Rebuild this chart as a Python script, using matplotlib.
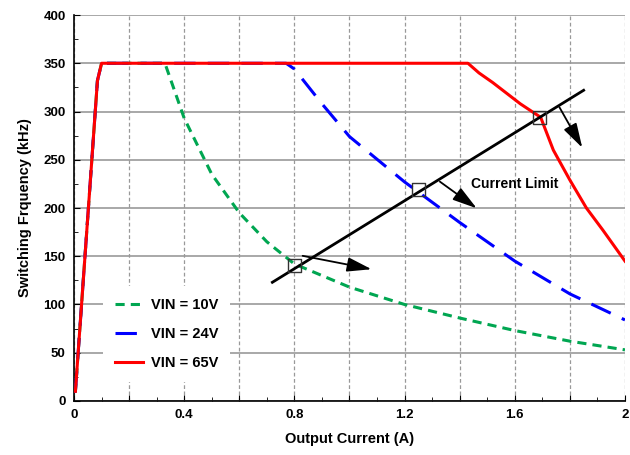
import numpy as np
import matplotlib.pyplot as plt
from matplotlib.ticker import MultipleLocator, FixedLocator

# data
i_10 = [0.0, 0.005, 0.085, 0.10, 0.33, 0.40, 0.50, 0.60, 0.70, 0.80, 1.0, 1.2, 1.4, 1.6, 1.8, 2.0]
f_10 = [10, 10, 332, 350, 350, 293, 235, 195, 165, 142, 118, 100, 86, 73, 62, 53]

i_24 = [0.0, 0.005, 0.085, 0.10, 0.77, 0.80, 0.90, 1.0, 1.2, 1.4, 1.6, 1.8, 2.0]
f_24 = [10, 10, 332, 350, 350, 344, 308, 274, 227, 185, 145, 111, 84]

i_65 = [0.005, 0.085, 0.10, 1.43, 1.47, 1.52, 1.62, 1.694, 1.74, 1.80, 1.86, 1.92, 2.0]
f_65 = [10, 332, 350, 350, 340, 330, 308, 294, 260, 229, 200, 177, 145]

limit_i = [0.72, 1.85]
limit_f = [123, 322]

cross_i = [0.80, 1.25, 1.69]
cross_f = [140, 219, 294]

arrow_start = [(0.82, 151), (1.32, 229), (1.757, 307)]
arrow_end = [(1.09, 136), (1.47, 198), (1.85, 260)]

x_ticks = [0, 0.2, 0.4, 0.6, 0.8, 1.0, 1.2, 1.4, 1.6, 1.8, 2.0]
x_labels = ['0', '', '0.4', '', '0.8', '', '1.2', '', '1.6', '', '2']

plt.rcParams['font.family'] = 'Liberation Sans'
plt.rcParams['font.weight'] = 'bold'

fig = plt.figure(figsize=(6.3, 4.55), dpi=100)
ax = fig.add_axes([0.1175, 0.1187, 0.8745, 0.8483])

ax.plot(i_10, f_10, color='#00a651', lw=2.2, ls=(0, (3, 2)), label='VIN = 10V', zorder=3)
ax.plot(i_24, f_24, color='#0000ff', lw=2.2, ls=(0, (7, 4)), label='VIN = 24V', zorder=3)
ax.plot(i_65, f_65, color='#ff0000', lw=2.2, label='VIN = 65V', zorder=4)

ax.plot(limit_i, limit_f, color='black', lw=2, zorder=5)
ax.scatter(cross_i, cross_f, marker='s', s=85, facecolors='none', edgecolors='#333333', lw=1, zorder=6)
for s, e in zip(arrow_start, arrow_end):
    ax.annotate('', xy=e, xytext=s,
                arrowprops=dict(arrowstyle='-|>,head_length=0.75,head_width=0.22',
                                color='black', lw=1.3, mutation_scale=20),
                zorder=6)
ax.text(1.44, 225, 'Current Limit', fontsize=10, fontweight='bold', va='center')

ax.set_xlim(0, 2)
ax.set_ylim(0, 400)
ax.xaxis.set_major_locator(FixedLocator(x_ticks))
ax.set_xticklabels(x_labels)
ax.xaxis.set_minor_locator(MultipleLocator(0.1))
ax.yaxis.set_major_locator(MultipleLocator(50))
ax.yaxis.set_minor_locator(MultipleLocator(25))
ax.tick_params(which='both', direction='in', labelsize=9.5, pad=6)
ax.tick_params(which='major', length=4)
ax.tick_params(which='minor', length=3)
ax.grid(axis='x', which='major', color='#999999', ls=(0, (3, 2)), lw=0.9)
ax.grid(axis='y', which='major', color='#999999', ls='-', lw=1.2)
for sp in ['top', 'right']:
    ax.spines[sp].set_visible(False)
ax.spines['left'].set_linewidth(1.2)
ax.spines['bottom'].set_linewidth(1.2)
ax.set_axisbelow(True)

ax.set_xlabel('Output Current (A)', fontsize=10.5, fontweight='bold', labelpad=8)
ax.set_ylabel('Switching Frquency (kHz)', fontsize=10.5, fontweight='bold', labelpad=8)

leg = ax.legend(loc='lower left', bbox_to_anchor=(0.04, 0.03), frameon=True, fontsize=10.5,
                handlelength=1.9, labelspacing=1.05, borderpad=0.8, handletextpad=0.55)
leg.get_frame().set_edgecolor('none')
leg.get_frame().set_alpha(1)
for t in leg.get_texts():
    t.set_fontweight('bold')

fig.savefig('out.png')
